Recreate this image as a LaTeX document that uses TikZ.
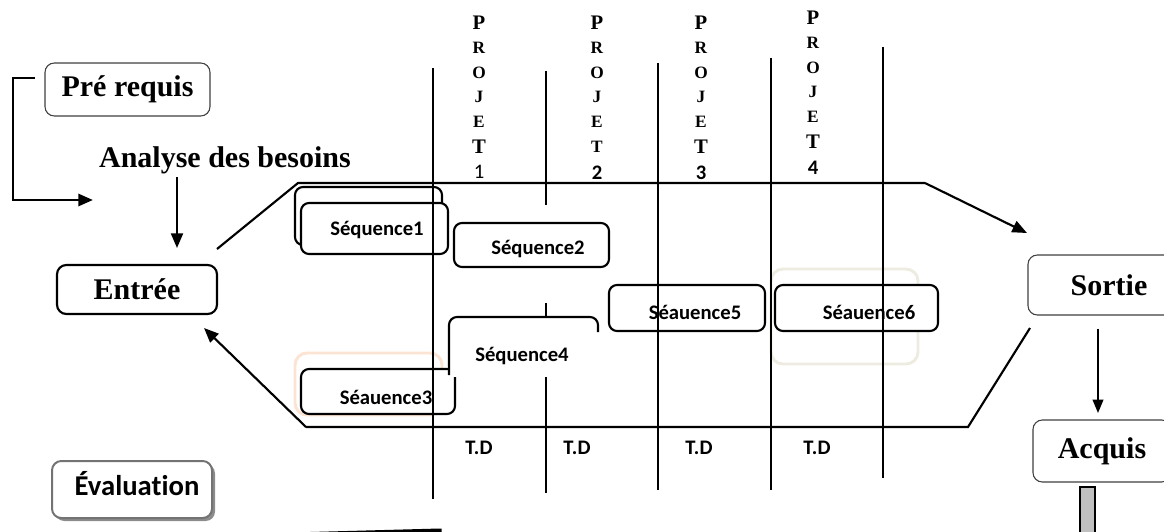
\documentclass[tikz,border=0pt]{standalone}
\usepackage{fontspec}
\setmainfont{Liberation Serif}
\newfontfamily\calfont[Ligatures=NoCommon]{Carlito}
\usetikzlibrary{arrows.meta}
\definecolor{peach}{HTML}{FBE4D3}
\definecolor{beige}{HTML}{EEECE1}
\begin{document}
\begin{tikzpicture}[x=0.75pt,y=-0.75pt,
  thinbox/.style={draw=black!75, line width=0.8pt, rounded corners=7pt, fill=white, inner sep=0pt},
  thickbox/.style={draw=black, line width=1.6pt, rounded corners=7pt, fill=white, inner sep=0pt},
  serif/.style={font=\fontsize{22.5}{26}\selectfont\bfseries},
  seqbox/.style={draw=black, line width=1.6pt, rounded corners=6pt, fill=white},
  faintbox/.style={line width=2.2pt, rounded corners=9pt},
  seqtext/.style={font=\calfont\bfseries\fontsize{15.5}{18}\selectfont, inner sep=0pt},
  projl/.style={font=\fontsize{13}{15}\selectfont\bfseries, inner sep=0pt},
  projbig/.style={font=\fontsize{15.5}{17}\selectfont\bfseries, inner sep=0pt},
  projd/.style={font=\calfont\bfseries\fontsize{15.5}{18}\selectfont, inner sep=0pt},
  vline/.style={line width=1.6pt},
  cont/.style={line width=1.6pt},
  arr/.style={-{Triangle[length=11pt,width=9pt]}},
]
\useasboundingbox (0,0) rectangle (1164,532);
\clip (0,0) rectangle (1164,532);

% faint background boxes
\draw[faintbox, draw=peach] (295,353) rectangle (442,415);
\draw[faintbox, draw=beige] (771,269) rectangle (918,364);

% sequence boxes
\draw[seqbox, fill=none] (295,187) rectangle (442,245);
\draw[seqbox] (301,203) rectangle (448,254);
\draw[seqbox] (454,223) rectangle (609,267);
\draw[seqbox] (301,369) rectangle (455,414);
\draw[seqbox] (609,285) rectangle (765,331);
\draw[seqbox] (775,285) rectangle (938,331);
\fill[white] (449,317) rectangle (598,377);
\draw[line width=1.6pt, rounded corners=6pt] (449,375) -- (449,317) -- (598,317) -- (598,332);

% vertical lines
\draw[vline] (433,68) -- (433,499);
\draw[vline] (546,71) -- (546,205);
\draw[vline] (546,303) -- (546,317);
\draw[vline] (546,377) -- (546,493);
\draw[vline] (658,63) -- (658,490);
\draw[vline] (771,58) -- (771,490);
\draw[vline] (883,47) -- (883,478);

% main nodes
\node[thinbox, minimum width=123.75pt, minimum height=39.75pt, serif] (pre) at (127.5,89.5) {Pré requis};
\node[serif, inner sep=0pt] (analyse) at (225,160) {Analyse des besoins};
\node[thickbox, minimum width=120pt, minimum height=36.75pt, serif] (entree) at (137,289.5) {Entrée};
\node[thinbox, minimum width=121.5pt, minimum height=45pt, serif] (sortie) at (1109,285) {Sortie};
\node[thinbox, minimum width=103.5pt, minimum height=46.5pt, serif] (acquis) at (1102,451) {Acquis};
\fill[black!45, rounded corners=7pt] (55,464) rectangle (215,521);
\node[draw=black!55, line width=1.5pt, rounded corners=7pt, fill=white, inner sep=0pt,
      minimum width=120pt, minimum height=42.75pt] (evalbox) at (132,489.5) {};
\node[font=\calfont\bfseries\fontsize{21.5}{24}\selectfont, inner sep=0pt] (evaltext) at (137,484) {Évaluation};

% sequence labels
\node[seqtext] (s1) at (377,230) {Séquence1};
\node[seqtext] (s2) at (538,249) {Séquence2};
\node[seqtext] (s3) at (386,397) {Séauence3};
\node[seqtext] (s4) at (522,356) {Séquence4};
\node[seqtext] (s5) at (695,312) {Séauence5};
\node[seqtext] (s6) at (869,312) {Séauence6};

% PROJET columns
\foreach \xx/\yy/\tst/\cn in {479/23/projbig/a, 597/23/projl/b, 701/23/projbig/c, 813/18/projbig/d} {
  \node[projbig] (p\cn1) at (\xx,\yy) {P};
  \foreach [count=\i from 2] \L in {R,O,J,E} {
    \node[projl] (p\cn\i) at (\xx,{\yy+24.7*(\i-1)}) {\L};
  }
  \node[\tst] (p\cn6) at (\xx,{\yy+24.7*5}) {T};
}
\node[font=\calfont\fontsize{15.5}{18}\selectfont, inner sep=0pt] (d1) at (479,172) {1};
\node[projd] (d2) at (597,173) {2};
\node[projd] (d3) at (701,173) {3};
\node[projd] (d4) at (813,168) {4};

% T.D labels
\node[seqtext] (td1) at (479,448) {T.D};
\node[seqtext] (td2) at (577,448) {T.D};
\node[seqtext] (td3) at (699,448) {T.D};
\node[seqtext] (td4) at (817,448) {T.D};

% coordinates
\coordinate (preL) at (35,78);
\coordinate (preC1) at (13,78);
\coordinate (preC2) at (13,200);
\coordinate (preEnd) at (93,200);
\coordinate (anaEnd) at (177,248);
\coordinate (tStart) at (217,249);
\coordinate (tl) at (298,183);
\coordinate (tr) at (925,183);
\coordinate (sortIn) at (1027,233);
\coordinate (bStart) at (1030,328);
\coordinate (br) at (968,427);
\coordinate (bl) at (306,427);
\coordinate (entIn) at (204,328);
\coordinate (acqIn) at (1098,413);

% connectors
\draw[line width=2.2pt, arr] (preL) -- (preC1) -- (preC2) -- (preEnd);
\draw[line width=1.6pt, arr] (analyse.south -| anaEnd) ++(0,3) -- (anaEnd);
\draw[cont] (tStart) -- (tl) -- (tr);
\draw[cont, arr] (tr) -- (sortIn);
\draw[cont] (bStart) -- (br) -- (bl);
\draw[cont, arr] (bl) -- (entIn);
\draw[line width=1.3pt, -{Triangle[length=10pt,width=8pt]}] (sortie.south -| acqIn) ++(0,13) -- (acqIn);

% gray bar under Acquis
\draw[fill=black!25, line width=1pt] (1080,487) rectangle (1095,540);

% bottom wedge
\fill (273,533) -- (440,528.5) -- (441.5,528.5) -- (441.5,534) -- (273,534) -- cycle;
\end{tikzpicture}
\end{document}
